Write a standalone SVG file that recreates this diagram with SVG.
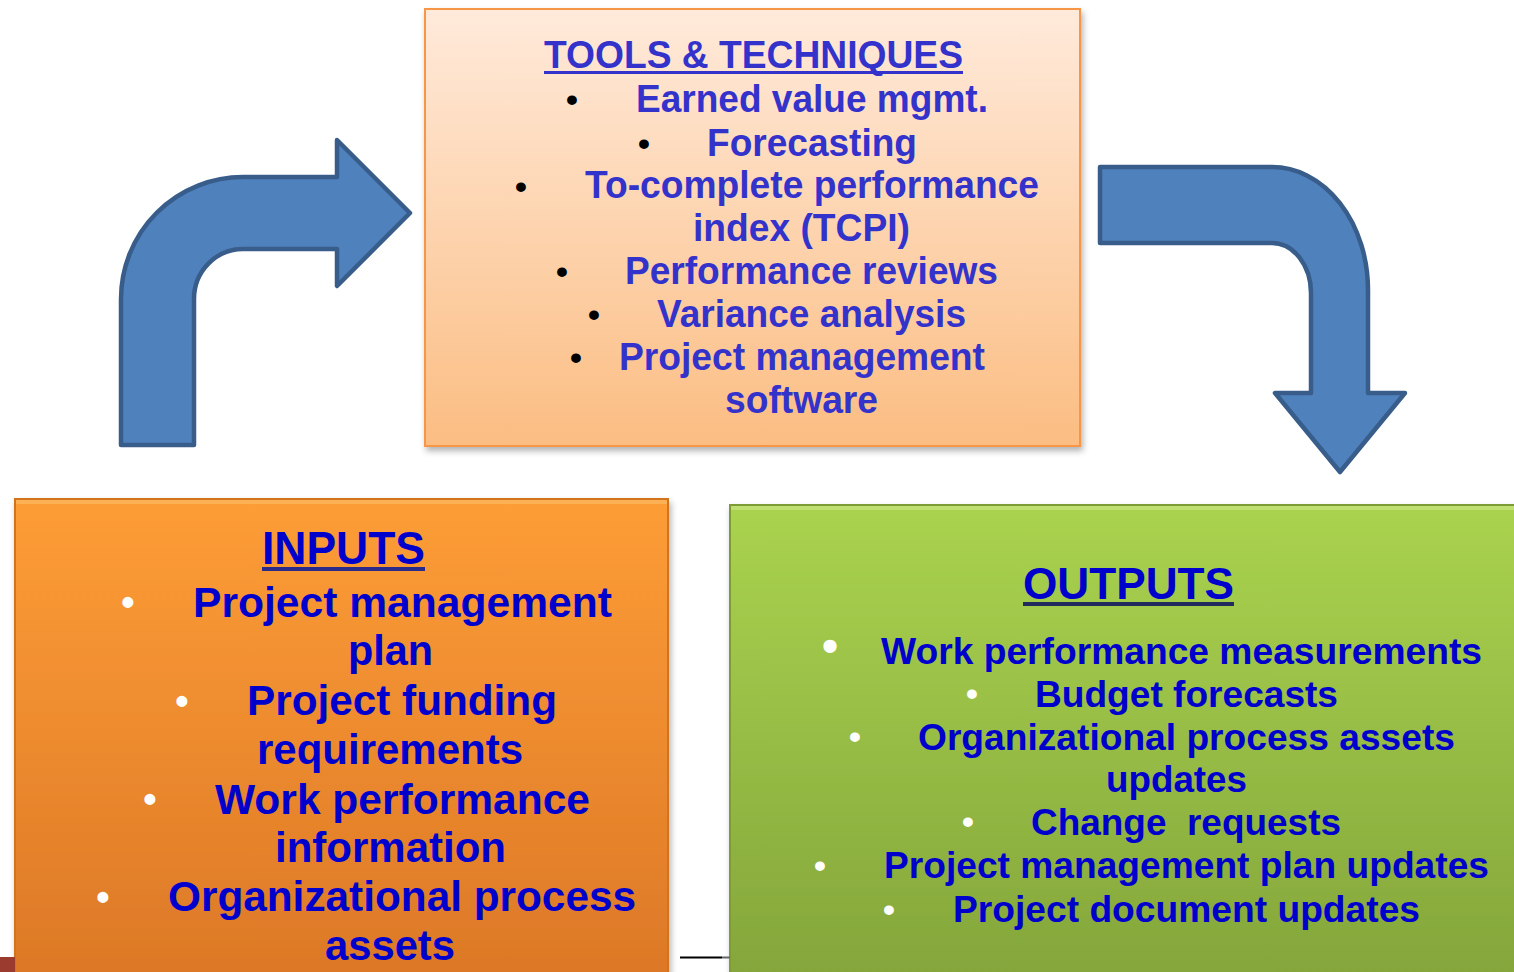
<svg xmlns="http://www.w3.org/2000/svg" width="1514" height="972" viewBox="0 0 1514 972">
<defs>
<linearGradient id="gTools" x1="0" y1="0" x2="0" y2="1"><stop offset="0" stop-color="#FFEADB"/><stop offset="1" stop-color="#FBBD82"/></linearGradient>
<linearGradient id="gIn" x1="0" y1="0" x2="0" y2="1"><stop offset="0" stop-color="#FD9D36"/><stop offset="1" stop-color="#DC7827"/></linearGradient>
<linearGradient id="gOut" x1="0" y1="0" x2="0" y2="1"><stop offset="0" stop-color="#AAD34F"/><stop offset="1" stop-color="#84A63B"/></linearGradient>
<filter id="sh" x="-5%" y="-5%" width="110%" height="115%"><feDropShadow dx="2" dy="4" stdDeviation="3" flood-color="#000" flood-opacity="0.3"/></filter>
<style>
text{font-family:"Liberation Sans",Arial,sans-serif;font-weight:bold}
.t{fill:#3333CC;font-size:38px}
.b{fill:#0000CC;font-size:43px}
.o{fill:#0000CC;font-size:37px}
.bk{fill:#000;font-size:34px}
.wh{fill:#fff;font-size:38px}
.arrow{fill:#4F81BD;stroke:#385D8A;stroke-width:4.5;stroke-linejoin:round}
</style>
</defs>
<g id="connectors">
<path class="arrow" d="M121,445 L121,299 A122,122 0 0 1 243,177 L337,177 L337,140 L410,213 L337,286 L337,249 L243,249 A49,50 0 0 0 194,299 L194,445 Z"/>
<path class="arrow" d="M1100,167 L1272,167 A96,123 0 0 1 1368,290 L1368,393 L1405,393 L1340,472 L1275,393 L1311,393 L1311,293 A39,50 0 0 0 1272,243 L1100,243 Z"/>
</g>
<g id="tools">
<rect x="425" y="9" width="655" height="437" fill="url(#gTools)" stroke="#F79646" stroke-width="2" filter="url(#sh)"/>
<text class="t" x="544" y="68" textLength="419" lengthAdjust="spacingAndGlyphs">TOOLS &amp; TECHNIQUES</text>
<rect x="544" y="71" width="419" height="3" fill="#3333CC"/>
<text class="bk" x="572" y="111" text-anchor="middle">•</text>
<text class="t" x="636" y="112" textLength="352" lengthAdjust="spacingAndGlyphs">Earned value mgmt.</text>
<text class="bk" x="644" y="155" text-anchor="middle">•</text>
<text class="t" x="707" y="156" textLength="210" lengthAdjust="spacingAndGlyphs">Forecasting</text>
<text class="bk" x="521" y="198" text-anchor="middle">•</text>
<text class="t" x="585" y="198" textLength="454" lengthAdjust="spacingAndGlyphs">To-complete performance</text>
<text class="t" x="693" y="241" textLength="217" lengthAdjust="spacingAndGlyphs">index (TCPI)</text>
<text class="bk" x="562" y="283" text-anchor="middle">•</text>
<text class="t" x="625" y="284" textLength="373" lengthAdjust="spacingAndGlyphs">Performance reviews</text>
<text class="bk" x="594" y="326" text-anchor="middle">•</text>
<text class="t" x="657" y="327" textLength="309" lengthAdjust="spacingAndGlyphs">Variance analysis</text>
<text class="bk" x="576" y="369" text-anchor="middle">•</text>
<text class="t" x="619" y="370" textLength="366" lengthAdjust="spacingAndGlyphs">Project management</text>
<text class="t" x="725" y="413" textLength="153" lengthAdjust="spacingAndGlyphs">software</text>
</g>
<g id="inputs">
<rect x="15" y="499" width="653" height="480" fill="url(#gIn)" stroke="#D3731F" stroke-width="2" filter="url(#sh)"/>
<rect x="16" y="500" width="651" height="4" fill="#FDB65E" opacity="0.8"/>
<text class="b" x="262" y="564" textLength="163" lengthAdjust="spacingAndGlyphs" style="font-size:46px">INPUTS</text>
<rect x="262" y="567" width="163" height="4" fill="#2A2A8A"/>
<text class="wh" x="128" y="615" text-anchor="middle">•</text>
<text class="b" x="193" y="617" textLength="419" lengthAdjust="spacingAndGlyphs">Project management</text>
<text class="b" x="348" y="665" textLength="85" lengthAdjust="spacingAndGlyphs">plan</text>
<text class="wh" x="182" y="714" text-anchor="middle">•</text>
<text class="b" x="247" y="715" textLength="310" lengthAdjust="spacingAndGlyphs">Project funding</text>
<text class="b" x="257" y="764" textLength="266" lengthAdjust="spacingAndGlyphs">requirements</text>
<text class="wh" x="150" y="812" text-anchor="middle">•</text>
<text class="b" x="215" y="814" textLength="375" lengthAdjust="spacingAndGlyphs">Work performance</text>
<text class="b" x="275" y="862" textLength="231" lengthAdjust="spacingAndGlyphs">information</text>
<text class="wh" x="103" y="910" text-anchor="middle">•</text>
<text class="b" x="168" y="911" textLength="468" lengthAdjust="spacingAndGlyphs">Organizational process</text>
<text class="b" x="325" y="960" textLength="130" lengthAdjust="spacingAndGlyphs">assets</text>
</g>
<g id="outputs">
<rect x="730" y="505" width="800" height="470" fill="url(#gOut)" stroke="#7E9C36" stroke-width="2" filter="url(#sh)"/>
<rect x="731" y="506" width="790" height="4" fill="#C4E27A" opacity="0.8"/>
<text class="o" x="1023" y="599" textLength="211" lengthAdjust="spacingAndGlyphs" style="font-size:45px">OUTPUTS</text>
<rect x="1023" y="602" width="211" height="4" fill="#222A5E"/>
<text class="wh" x="830" y="662" text-anchor="middle" style="font-size:46px">•</text>
<text class="o" x="881" y="664" textLength="601" lengthAdjust="spacingAndGlyphs">Work performance measurements</text>
<text class="wh" x="972" y="705" text-anchor="middle" style="font-size:34px">•</text>
<text class="o" x="1035" y="707" textLength="303" lengthAdjust="spacingAndGlyphs">Budget forecasts</text>
<text class="wh" x="855" y="748" text-anchor="middle" style="font-size:34px">•</text>
<text class="o" x="918" y="750" textLength="537" lengthAdjust="spacingAndGlyphs">Organizational process assets</text>
<text class="o" x="1106" y="792" textLength="141" lengthAdjust="spacingAndGlyphs">updates</text>
<text class="wh" x="968" y="833" text-anchor="middle" style="font-size:34px">•</text>
<text class="o" x="1031" y="835" textLength="310" lengthAdjust="spacingAndGlyphs" xml:space="preserve">Change  requests</text>
<text class="wh" x="820" y="877" text-anchor="middle" style="font-size:34px">•</text>
<text class="o" x="884" y="878" textLength="605" lengthAdjust="spacingAndGlyphs">Project management plan updates</text>
<text class="wh" x="889" y="921" text-anchor="middle" style="font-size:34px">•</text>
<text class="o" x="953" y="922" textLength="467" lengthAdjust="spacingAndGlyphs">Project document updates</text>
</g>
<rect x="0" y="957" width="15" height="15" fill="#9B3A2E"/>
<line x1="680" y1="957.5" x2="722" y2="957.5" stroke="#000" stroke-width="2"/>
<line x1="722" y1="957.5" x2="730" y2="957.5" stroke="#666" stroke-width="2"/>
</svg>
